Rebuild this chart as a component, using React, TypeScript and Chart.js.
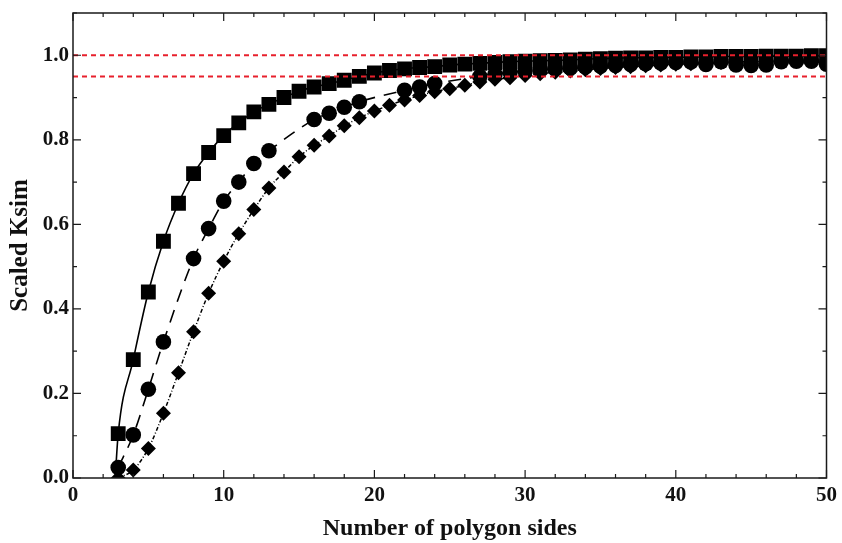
import React, { useEffect, useRef } from 'react';
import { Chart, registerables } from 'chart.js';

Chart.register(...registerables);

// Number of polygon sides (x positions of the markers)
const sides = [
  3, 4, 5, 6, 7, 8, 9, 10, 11, 12, 13, 14, 15, 16, 17, 18, 19, 20, 21, 22, 23, 24, 25, 26,
  27, 28, 29, 30, 31, 32, 33, 34, 35, 36, 37, 38, 39, 40, 41, 42, 43, 44, 45, 46, 47, 48, 49, 50,
];

// Scaled Ksim – squares (solid curve)
const squareKsim = [
  0.105, 0.28, 0.44, 0.56, 0.65, 0.72, 0.77, 0.81, 0.84, 0.866, 0.884, 0.9, 0.915, 0.925, 0.933, 0.941,
  0.95, 0.958, 0.964, 0.968, 0.971, 0.973, 0.977, 0.979, 0.981, 0.983, 0.985, 0.986, 0.987, 0.988, 0.989,
  0.991, 0.992, 0.993, 0.994, 0.994, 0.995, 0.995, 0.996, 0.996, 0.997, 0.997, 0.997, 0.998, 0.998, 0.998,
  0.999, 0.999,
];

// Scaled Ksim – circles (dashed curve); null where no marker is drawn
const circleKsim = [
  0.025, 0.102, 0.21, 0.322, null, 0.519, 0.59, 0.655, 0.7, 0.744, 0.774, null, null, 0.848, 0.863, 0.877,
  0.89, null, null, 0.917, 0.925, 0.933, null, null, 0.95, 0.955, 0.96, 0.963, 0.966, 0.968, 0.97,
  0.972, 0.974, 0.976, 0.978, 0.98, 0.982, 0.983, 0.984, 0.978, 0.985, 0.977, 0.976, 0.977, 0.985, 0.986,
  0.986, 0.979,
];

// Scaled Ksim – diamonds (dash-dot curve)
const diamondKsim = [
  0.0, 0.019, 0.07, 0.153, 0.249, 0.346, 0.437, 0.513, 0.578, 0.635, 0.686, 0.724, 0.76, 0.787, 0.809, 0.833,
  0.852, 0.868, 0.882, 0.894, 0.905, 0.914, 0.921, 0.929, 0.937, 0.943, 0.947, 0.952, 0.956, 0.96, 0.963,
  0.966, 0.969, 0.971, 0.973, 0.975, 0.977, 0.979, 0.98, 0.982, 0.983, 0.984, 0.985, 0.986, 0.987, 0.988,
  0.988, 0.989,
];

// Where the solid fitted curve meets the x axis
const solidCurveStart = [2.8, 0];

// Red reference levels
const refLevels = [1.0, 0.95];

// Axis ticks
const xTicks = [0, 10, 20, 30, 40, 50];
const xMinorTicks = [2, 4, 6, 8, 12, 14, 16, 18, 22, 24, 26, 28, 32, 34, 36, 38, 42, 44, 46, 48];
const yTicks = [0, 0.2, 0.4, 0.6, 0.8, 1.0];
const yMinorTicks = [0.1, 0.3, 0.5, 0.7, 0.9, 1.1];

const pts = (ys: (number | null)[]) =>
  sides.map((x, i) => ({ x, y: ys[i] })).filter((p) => p.y !== null) as { x: number; y: number }[];

const FONT = "'Liberation Serif', 'Times New Roman', serif";

const framePlugin = {
  id: 'frameTicks',
  afterDraw(chart: any) {
    const { ctx, chartArea, scales } = chart;
    const { left, right, top, bottom } = chartArea;
    ctx.save();
    ctx.strokeStyle = '#1a1a1a';
    ctx.lineWidth = 1.5;
    ctx.strokeRect(left, top, right - left, bottom - top);
    ctx.lineWidth = 1.2;
    const major = 8;
    const minor = 4;
    ctx.beginPath();
    const xs = scales.x;
    const ys = scales.y;
    const drawX = (v: number, len: number) => {
      const px = xs.getPixelForValue(v);
      ctx.moveTo(px, bottom);
      ctx.lineTo(px, bottom - len);
      ctx.moveTo(px, top);
      ctx.lineTo(px, top + len);
    };
    const drawY = (v: number, len: number) => {
      const py = ys.getPixelForValue(v);
      ctx.moveTo(left, py);
      ctx.lineTo(left + len, py);
      ctx.moveTo(right, py);
      ctx.lineTo(right - len, py);
    };
    xTicks.forEach((v) => drawX(v, major));
    xMinorTicks.forEach((v) => drawX(v, minor));
    yTicks.forEach((v) => drawY(v, major));
    yMinorTicks.forEach((v) => drawY(v, minor));
    ctx.stroke();
    ctx.restore();
  },
};

export default function App() {
  const canvasRef = useRef<HTMLCanvasElement | null>(null);

  useEffect(() => {
    document.body.style.margin = '0';
    const canvas = canvasRef.current;
    if (!canvas) return;

    const red = '#e8202c';
    const refSets = refLevels.map((lv) => ({
      type: 'scatter' as const,
      data: [
        { x: 0, y: lv },
        { x: 50, y: lv },
      ],
      showLine: true,
      borderColor: red,
      borderWidth: 2,
      borderDash: [5, 4],
      pointRadius: 0,
      clip: 0,
    }));

    const chart = new Chart(canvas, {
      type: 'scatter',
      data: {
        datasets: [
          ...refSets,
          {
            data: pts(squareKsim),
            showLine: false,
            pointStyle: 'rect',
            pointRadius: 10.5,
            backgroundColor: '#000',
            borderWidth: 0,
            clip: 0,
          },
          {
            data: pts(circleKsim),
            showLine: false,
            pointStyle: 'circle',
            pointRadius: 7.8,
            backgroundColor: '#000',
            borderWidth: 0,
            clip: 0,
          },
          {
            data: pts(diamondKsim),
            showLine: false,
            pointStyle: 'rectRot',
            pointRadius: 7.5,
            backgroundColor: '#000',
            borderWidth: 0,
            clip: 0,
          },
          {
            data: [{ x: solidCurveStart[0], y: solidCurveStart[1] }, ...pts(squareKsim)],
            showLine: true,
            borderColor: '#000',
            borderWidth: 1.6,
            pointRadius: 0,
            cubicInterpolationMode: 'monotone',
            clip: 0,
          },
          {
            data: pts(circleKsim),
            showLine: true,
            borderColor: '#000',
            borderWidth: 1.6,
            borderDash: [13, 9],
            pointRadius: 0,
            cubicInterpolationMode: 'monotone',
            clip: 0,
          },
          {
            data: pts(diamondKsim),
            showLine: true,
            borderColor: '#000',
            borderWidth: 1.5,
            borderDash: [4, 2, 1, 2],
            pointRadius: 0,
            cubicInterpolationMode: 'monotone',
            clip: 0,
          },
        ] as any,
      },
      options: {
        animation: false,
        responsive: false,
        maintainAspectRatio: false,
        events: [],
        layout: { padding: { top: 0, right: 14, left: 0, bottom: 0 } },
        plugins: {
          legend: { display: false },
          tooltip: { enabled: false },
        },
        scales: {
          x: {
            type: 'linear',
            min: 0,
            max: 50,
            afterFit: (s: any) => {
              s.height = 65;
            },
            afterBuildTicks: (s: any) => {
              s.ticks = xTicks.map((v) => ({ value: v }));
            },
            grid: { display: false, drawTicks: false },
            border: { display: false },
            ticks: {
              color: '#111',
              font: { family: FONT, size: 21, weight: 'bold' },
              padding: 5,
              maxRotation: 0,
              callback: (v: any) => String(v),
            },
            title: {
              display: true,
              text: 'Number of polygon sides',
              color: '#111',
              font: { family: FONT, size: 24, weight: 'bold' },
              padding: { top: 0, bottom: 0 },
            },
          },
          y: {
            type: 'linear',
            min: 0,
            max: 1.1,
            afterFit: (s: any) => {
              s.width = 73;
              s.paddingTop = 13;
            },
            afterBuildTicks: (s: any) => {
              s.ticks = yTicks.map((v) => ({ value: v }));
            },
            grid: { display: false, drawTicks: false },
            border: { display: false },
            ticks: {
              color: '#111',
              font: { family: FONT, size: 21, weight: 'bold' },
              padding: 4,
              callback: (v: any) => Number(v).toFixed(1),
            },
            title: {
              display: true,
              text: 'Scaled Ksim',
              color: '#111',
              font: { family: FONT, size: 25, weight: 'bold' },
              padding: { top: 6, bottom: 0 },
            },
          },
        },
      } as any,
      plugins: [framePlugin],
    });

    return () => {
      chart.destroy();
    };
  }, []);

  return (
    <div style={{ width: 842, height: 543, background: '#fff' }}>
      <canvas ref={canvasRef} width={842} height={543} style={{ display: 'block' }} />
    </div>
  );
}
